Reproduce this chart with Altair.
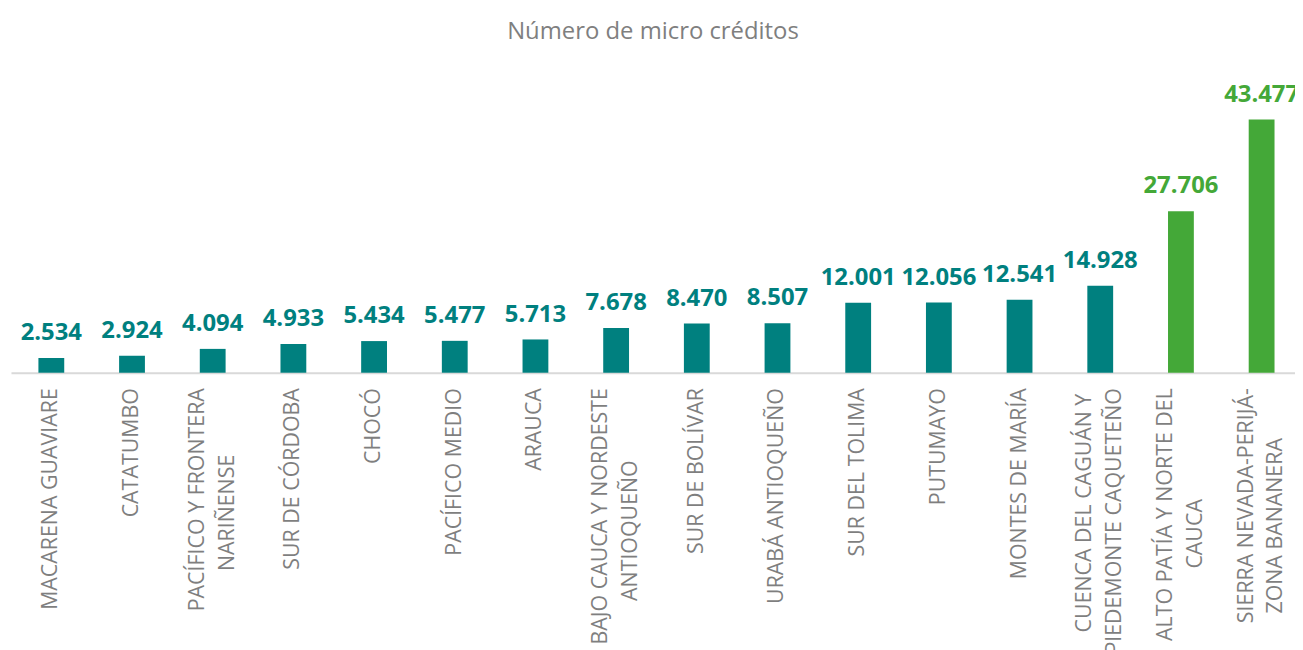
import altair as alt
import pandas as pd

# Regiones (| marca el salto de línea de la etiqueta)
regiones = [
    "MACARENA GUAVIARE",
    "CATATUMBO",
    "PACÍFICO Y FRONTERA|NARIÑENSE",
    "SUR DE CÓRDOBA",
    "CHOCÓ",
    "PACÍFICO MEDIO",
    "ARAUCA",
    "BAJO CAUCA Y NORDESTE|ANTIOQUEÑO",
    "SUR DE BOLÍVAR",
    "URABÁ ANTIOQUEÑO",
    "SUR DEL TOLIMA",
    "PUTUMAYO",
    "MONTES DE MARÍA",
    "CUENCA DEL CAGUÁN Y|PIEDEMONTE CAQUETEÑO",
    "ALTO PATÍA Y NORTE DEL|CAUCA",
    "SIERRA NEVADA-PERIJÁ-|ZONA BANANERA",
]
creditos = [2534, 2924, 4094, 4933, 5434, 5477, 5713, 7678,
            8470, 8507, 12001, 12056, 12541, 14928, 27706, 43477]
grupo = ["base", "base", "base", "base", "base", "base", "base", "base",
         "base", "base", "base", "base", "base", "base", "destacado", "destacado"]

df = pd.DataFrame({"region": regiones, "creditos": creditos, "grupo": grupo})

TEAL = "#00807F"
GREEN = "#44A838"
NB = "\u00a0"
ZW = "\u200b"

sp = "split(datum.label,'|')"
label_expr = (
    f"length({sp})<2 ? datum.label : "
    f"[{sp}[0] + pad('', max(0, round((length({sp}[1]) - length({sp}[0]))*1.15)), '{NB}') + '{ZW}', "
    f"{sp}[1] + pad('', max(0, round((length({sp}[0]) - length({sp}[1]))*1.15)), '{NB}') + '{ZW}']"
)

x = alt.X(
    "region:N",
    sort=regiones,
    scale=alt.Scale(range=[0, 1299], paddingInner=0.68, paddingOuter=0.34),
    axis=alt.Axis(
        title=None,
        labelAngle=-90,
        labelAlign="right",
        labelBaseline="middle",
        labelFont="Open Sans",
        labelFontSize=21.5,
        labelColor="#7f7f7f",
        labelLineHeight=30,
        labelPadding=15,
        labelLimit=0,
        labelOverlap=False,
        labelBound=False,
        labelExpr=label_expr,
        labelOffset={"condition": {"test": "indexof(datum.value, '|') >= 0", "value": -15}, "value": 0},
        ticks=False,
        tickSize=0,
        domainColor="#d9d9d9",
        domainWidth=2,
        grid=False,
    ),
)

color = alt.Color(
    "grupo:N",
    scale=alt.Scale(domain=["base", "destacado"], range=[TEAL, GREEN]),
    legend=None,
)

y = alt.Y("creditos:Q", scale=alt.Scale(domain=[0, 50000]), axis=None)

base = alt.Chart(df).encode(x=x, y=y, color=color)

bars = base.mark_bar()

labels = base.transform_calculate(
    etiqueta="replace(format(datum.creditos, ','), ',', '.')"
).mark_text(
    font="Open Sans", fontSize=24, fontWeight="bold",
    baseline="alphabetic", align="center", dy=-18
).encode(text="etiqueta:N")

chart = (
    alt.layer(bars, labels)
    .properties(
        width=1292,
        height=293,
        autosize=alt.AutoSizeParams(type="none"),
        padding={"left": 3, "top": 72, "right": 0, "bottom": 277},
        title=alt.TitleParams(
            "Número de micro créditos",
            font="Open Sans", fontSize=24, fontWeight="normal",
            color="#7f7f7f", anchor="middle", offset=38,
        ),
    )
    .configure_view(stroke=None)
)

chart.save("out.html", embed_options={"renderer": "svg", "actions": False})
